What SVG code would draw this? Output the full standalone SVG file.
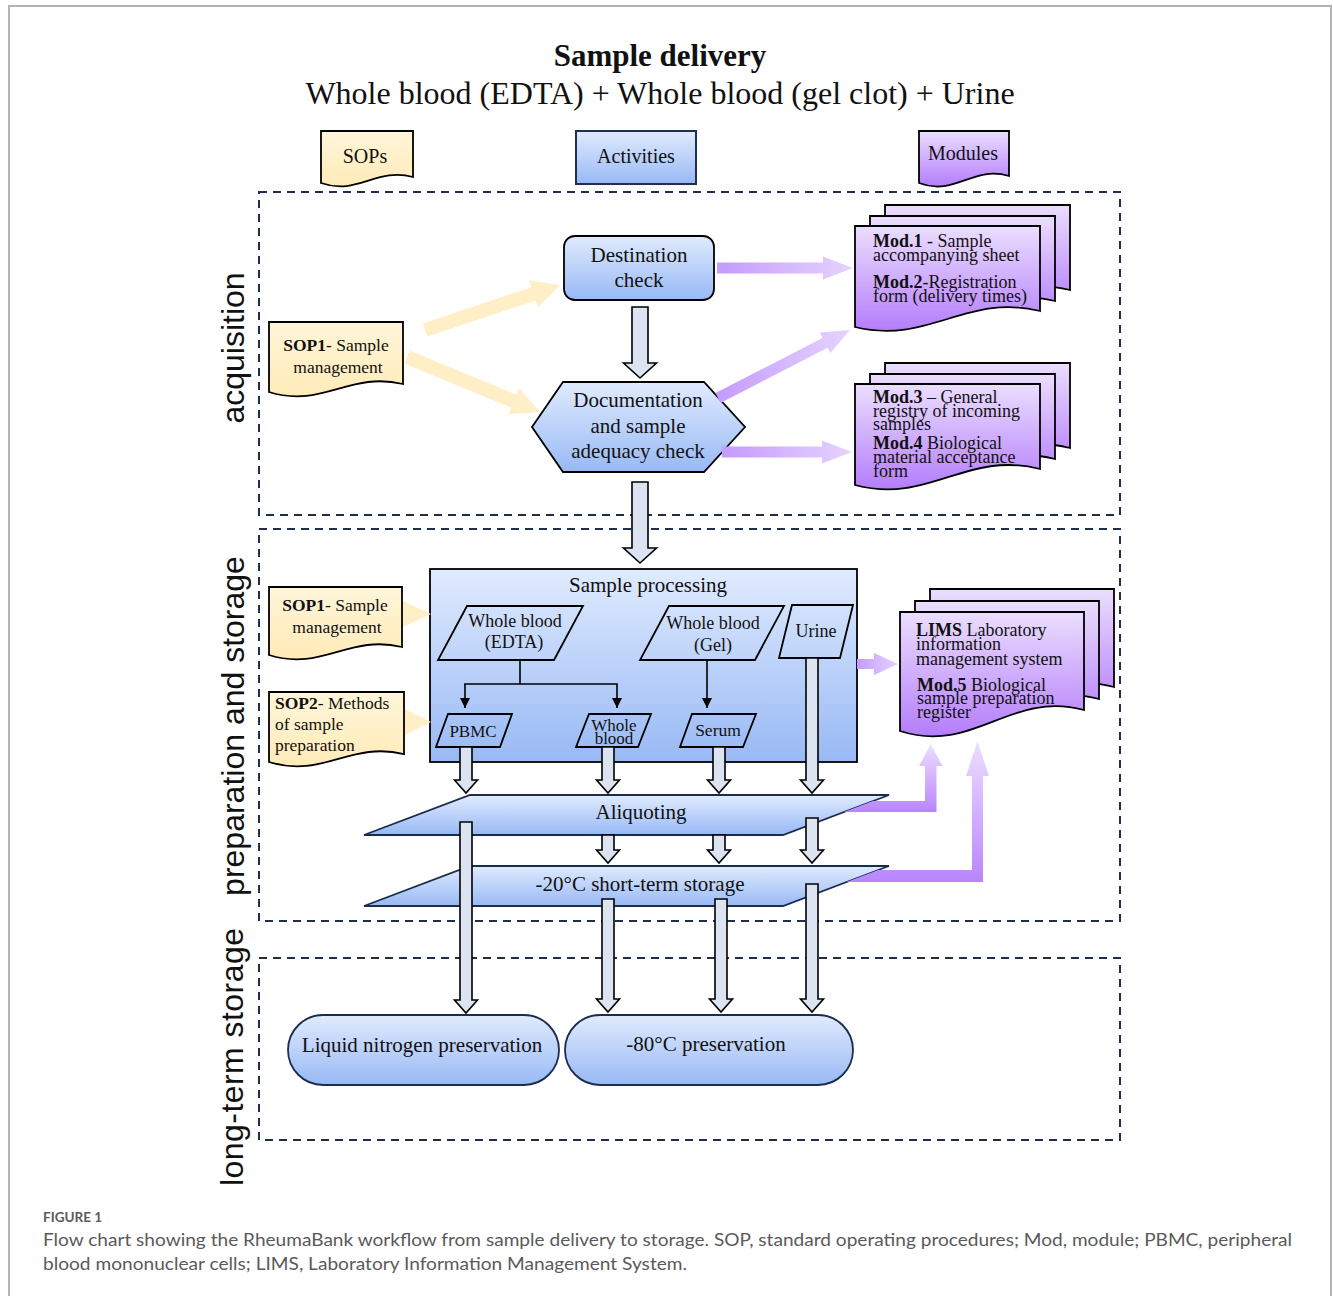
<svg xmlns="http://www.w3.org/2000/svg" width="1333" height="1296" viewBox="0 0 1333 1296">
<defs>
<linearGradient id="gBlue" x1="0" y1="0" x2="0" y2="1"><stop offset="0" stop-color="#e0ebfe"/><stop offset="1" stop-color="#98b9f5"/></linearGradient>
<linearGradient id="gYel" x1="0" y1="0" x2="0" y2="1"><stop offset="0" stop-color="#fff5d9"/><stop offset="1" stop-color="#ffebb8"/></linearGradient>
<linearGradient id="gPur" x1="0" y1="0" x2="0" y2="1"><stop offset="0" stop-color="#ebdeff"/><stop offset="1" stop-color="#b47dfb"/></linearGradient>
<linearGradient id="gArrH" x1="0" y1="0" x2="1" y2="0"><stop offset="0" stop-color="#c49bff"/><stop offset="1" stop-color="#e6d3ff"/></linearGradient>
<linearGradient id="gArrV" x1="0" y1="0" x2="0" y2="1"><stop offset="0" stop-color="#ecdfff"/><stop offset="1" stop-color="#b985ff"/></linearGradient>
<marker id="ah" viewBox="0 0 10 10" refX="10" refY="5" markerWidth="10" markerHeight="10" markerUnits="userSpaceOnUse" orient="auto"><path d="M0,0 L10,5 L0,10 Z" fill="#000"/></marker>
<style>
.serif{font-family:"Liberation Serif","Times New Roman",serif;fill:#111}
.side{font-family:"Liberation Sans",Arial,sans-serif;font-size:32px;fill:#111}
.sec{fill:none;stroke:#1f2f4f;stroke-width:2;stroke-dasharray:8 6}
.doc{stroke:#000;stroke-width:1.8}
.yel{fill:url(#gYel)}
.pur{fill:url(#gPur)}
.blue{fill:url(#gBlue)}
.blk{stroke:#000;stroke-width:1.8}
.navy{stroke:#1c2c4c;stroke-width:1.8}
.barr{fill:#dbe4f0;stroke:#000;stroke-width:1.6}
.yarr{fill:#ffefc6}
.thin{fill:none;stroke:#000;stroke-width:1.6}
.cap{font-family:Lato,"Open Sans",sans-serif;fill:#5a5a5a}
</style>
</defs>
<rect width="1333" height="1296" fill="#fff"/>
<rect x="9" y="6" width="1322" height="1310" fill="none" stroke="#b4b4b4" stroke-width="2"/>

<g id="title">
<text class="serif" x="660" y="66" text-anchor="middle" font-size="31" font-weight="bold">Sample delivery</text>
<text class="serif" x="660" y="104" text-anchor="middle" font-size="32">Whole blood (EDTA) + Whole blood (gel clot) + Urine</text>
</g>

<g id="sections">
<rect class="sec" x="259" y="192" width="861" height="323"/>
<rect class="sec" x="259" y="529" width="861" height="392"/>
<rect class="sec" x="259" y="958" width="861" height="182"/>
<text class="side" transform="translate(244,348) rotate(-90)" text-anchor="middle">acquisition</text>
<text class="side" transform="translate(244,726) rotate(-90)" text-anchor="middle">preparation and storage</text>
<text class="side" transform="translate(243,1057) rotate(-90)" text-anchor="middle" textLength="258">long-term storage</text>
</g>

<g id="hdr-sops">
<path class="doc yel" d="M321,131 H413 V177 C376.2,167 357.8,196 321,183 Z"/>
<text class="serif" x="365" y="163" text-anchor="middle" font-size="20">SOPs</text>
</g>
<g id="hdr-activities">
<rect class="blue" x="576" y="131" width="120" height="53" stroke="#1f2f4f" stroke-width="2"/>
<text class="serif" x="636" y="163" text-anchor="middle" font-size="20">Activities</text>
</g>
<g id="hdr-modules">
<path class="doc pur" d="M919,131 H1009 V176 C973,165 955,197 919,183 Z"/>
<text class="serif" x="963" y="160" text-anchor="middle" font-size="20">Modules</text>
</g>

<g id="sop1-acq">
<path class="doc yel" d="M269,322 H403 V384 C349.4,371 322.6,408.7 269,392 Z"/>
<text class="serif" x="336" y="351" text-anchor="middle" font-size="17.5"><tspan font-weight="bold">SOP1</tspan>- Sample</text>
<text class="serif" x="338" y="373" text-anchor="middle" font-size="17.5">management</text>
</g>

<g id="destination">
<rect class="blue blk" x="564" y="236" width="150" height="64" rx="11"/>
<text class="serif" x="639" y="262" text-anchor="middle" font-size="21">Destination</text>
<text class="serif" x="639" y="287" text-anchor="middle" font-size="21">check</text>
</g>

<g id="documentation">
<polygon class="blue blk" points="532,427 563,382 704,382 745,427 704,472 563,472"/>
<text class="serif" x="638" y="407" text-anchor="middle" font-size="21">Documentation</text>
<text class="serif" x="638" y="433" text-anchor="middle" font-size="21">and sample</text>
<text class="serif" x="638" y="458" text-anchor="middle" font-size="21">adequacy check</text>
</g>

<g id="mod12">
<path class="doc pur" d="M885,205 H1070 V290 C996,272 959,324 885,306 Z"/>
<path class="doc pur" d="M870,216 H1055 V301 C981,283 944,335 870,317 Z"/>
<path class="doc pur" d="M855,226 H1040 V311 C966,293 929,345 855,327 Z"/>
<text class="serif" x="873" y="247" font-size="18"><tspan font-weight="bold">Mod.1</tspan> - Sample</text>
<text class="serif" x="873" y="261" font-size="18">accompanying sheet</text>
<text class="serif" x="873" y="288" font-size="18"><tspan font-weight="bold">Mod.2</tspan>-Registration</text>
<text class="serif" x="873" y="302" font-size="18">form (delivery times)</text>
</g>

<g id="mod34">
<path class="doc pur" d="M885,363 H1070 V448 C996,429 959,484 885,464 Z"/>
<path class="doc pur" d="M870,374 H1055 V459 C981,440 944,495 870,475 Z"/>
<path class="doc pur" d="M855,384 H1040 V469 C966,450 929,505 855,485 Z"/>
<text class="serif" x="873" y="403" font-size="18"><tspan font-weight="bold">Mod.3</tspan> – General</text>
<text class="serif" x="873" y="417" font-size="18">registry of incoming</text>
<text class="serif" x="873" y="430" font-size="18">samples</text>
<text class="serif" x="873" y="449" font-size="18"><tspan font-weight="bold">Mod.4</tspan> Biological</text>
<text class="serif" x="873" y="463" font-size="18">material acceptance</text>
<text class="serif" x="873" y="477" font-size="18">form</text>
</g>

<g id="sop1-prep">
<path class="doc yel" d="M269,587 H402 V647 C348.8,634 322.2,671.7 269,655 Z"/>
<text class="serif" x="335" y="611" text-anchor="middle" font-size="17.5"><tspan font-weight="bold">SOP1</tspan>- Sample</text>
<text class="serif" x="337" y="633" text-anchor="middle" font-size="17.5">management</text>
</g>

<g id="sop2">
<path class="doc yel" d="M269,692 H404 V754 C350,741 323,778.7 269,762 Z"/>
<text class="serif" x="275" y="709" font-size="17.5"><tspan font-weight="bold">SOP2</tspan>- Methods</text>
<text class="serif" x="275" y="730" font-size="17.5">of sample</text>
<text class="serif" x="275" y="751" font-size="17.5">preparation</text>
</g>

<g id="sample-processing">
<rect class="blue blk" x="430" y="569" width="427" height="193"/>
<text class="serif" x="648" y="592" text-anchor="middle" font-size="21">Sample processing</text>
</g>
<g id="wb-edta">
<polygon class="blk" fill="none" points="467,606 583,606 554,660 438,660"/>
<text class="serif" x="515" y="627" text-anchor="middle" font-size="18">Whole blood</text>
<text class="serif" x="514" y="648" text-anchor="middle" font-size="18">(EDTA)</text>
</g>
<g id="wb-gel">
<polygon class="blk" fill="none" points="669,606 784,606 755,660 640,660"/>
<text class="serif" x="713" y="629" text-anchor="middle" font-size="18">Whole blood</text>
<text class="serif" x="713" y="651" text-anchor="middle" font-size="18">(Gel)</text>
</g>
<g id="urine">
<polygon class="blk" fill="none" points="792,605 853,605 840,658 779,658"/>
<text class="serif" x="816" y="637" text-anchor="middle" font-size="18">Urine</text>
</g>
<g id="pbmc">
<polygon class="blk" fill="none" points="448,714 512,714 500,747 436,747"/>
<text class="serif" x="473" y="737" text-anchor="middle" font-size="17">PBMC</text>
</g>
<g id="whole-blood">
<polygon class="blk" fill="none" points="589,714 651,714 638,747 576,747"/>
<text class="serif" x="614" y="731" text-anchor="middle" font-size="17">Whole</text>
<text class="serif" x="614" y="744" text-anchor="middle" font-size="17">blood</text>
</g>
<g id="serum">
<polygon class="blk" fill="none" points="692,714 756,714 743,747 680,747"/>
<text class="serif" x="718" y="736" text-anchor="middle" font-size="17.5">Serum</text>
</g>

<g id="lims">
<path class="doc pur" d="M930,589 H1114 V687 C1040,667 1004,732 930,708 Z"/>
<path class="doc pur" d="M915,601 H1099 V699 C1025,679 989,744 915,720 Z"/>
<path class="doc pur" d="M900,612 H1084 V710 C1010,690 974,755 900,731 Z"/>
<text class="serif" x="916" y="636" font-size="18"><tspan font-weight="bold">LIMS</tspan> Laboratory</text>
<text class="serif" x="916" y="650" font-size="18">information</text>
<text class="serif" x="916" y="665" font-size="18">management system</text>
<text class="serif" x="917" y="691" font-size="18"><tspan font-weight="bold">Mod.5</tspan> Biological</text>
<text class="serif" x="917" y="704" font-size="18">sample preparation</text>
<text class="serif" x="917" y="718" font-size="18">register</text>
</g>

<g id="aliquoting">
<polygon class="blue navy" points="470,795 889,795 783,835 364,835"/>
<text class="serif" x="641" y="819" text-anchor="middle" font-size="21">Aliquoting</text>
</g>
<g id="short-term">
<polygon class="blue navy" points="470,866 889,866 783,906 364,906"/>
<text class="serif" x="640" y="891" text-anchor="middle" font-size="21">-20°C short-term storage</text>
</g>

<g id="liquid-nitrogen">
<rect class="blue navy" x="288" y="1015" width="271" height="70" rx="35"/>
<text class="serif" x="422" y="1052" text-anchor="middle" font-size="21">Liquid nitrogen preservation</text>
</g>
<g id="minus80">
<rect class="blue navy" x="565" y="1015" width="288" height="70" rx="35"/>
<text class="serif" x="706" y="1051" text-anchor="middle" font-size="21">-80°C preservation</text>
</g>

<g id="connectors">
<polygon class="yarr" points="427.2,336.6 535.6,300.5 537.8,307.2 560,285 529,280.6 531.2,287.3 422.8,323.4"/>
<polygon class="yarr" points="404.3,363.5 511.4,407.8 508.7,414.2 540,412 519.5,388.4 516.8,394.8 409.7,350.5"/>
<polygon class="yarr" points="403,601 431,614 403,627"/>
<polygon class="yarr" points="405,709 431,722 405,735"/>

<polygon fill="url(#gArrH)" points="717,262.5 823,262.5 823,256.5 853,268 823,279.5 823,273.5 717,273.5"/>
<polygon fill="url(#gArrH)" points="720.5,402.9 827.6,347.7 830.4,353 850,330 819.8,332.6 822.6,337.9 715.5,393.1"/>
<polygon fill="url(#gArrH)" points="722,446.5 822,446.5 822,440.5 852,452 822,463.5 822,457.5 722,457.5"/>
<polygon fill="url(#gArrH)" points="857,659 874,659 874,653 898,664 874,675 874,669 857,669"/>
<polygon fill="url(#gArrV)" points="873,801 925,801 925,766 919,766 930.7,744 942.5,766 936.5,766 936.5,812 844,812"/>
<polygon fill="url(#gArrV)" points="878.4,870 972,870 972,776 966,776 977.5,741 989,776 983,776 983,882 846.6,882"/>

<path class="thin" d="M520,660 V684 M464.2,684 H617.8"/>
<path class="thin" d="M465,684 V708" marker-end="url(#ah)"/>
<path class="thin" d="M617,684 V708" marker-end="url(#ah)"/>
<path class="thin" d="M707,660 V708" marker-end="url(#ah)"/>

<polygon class="barr" points="632,307 648,307 648,363 656.5,363 640,378 623.5,363 632,363"/>
<polygon class="barr" points="632,482 648,482 648,548 656.5,548 640,563 623.5,548 632,548"/>
<polygon class="barr" points="460,747 472,747 472,780 477.5,780 466,793 454.5,780 460,780"/>
<polygon class="barr" points="602,747 614,747 614,780 619.5,780 608,793 596.5,780 602,780"/>
<polygon class="barr" points="713,747 725,747 725,780 730.5,780 719,793 707.5,780 713,780"/>
<polygon class="barr" points="806,658 818,658 818,780 823.5,780 812,793 800.5,780 806,780"/>
<polygon class="barr" points="602,835 614,835 614,850 619.5,850 608,863 596.5,850 602,850"/>
<polygon class="barr" points="713,835 725,835 725,850 730.5,850 719,863 707.5,850 713,850"/>
<polygon class="barr" points="806,818 818,818 818,850 823.5,850 812,863 800.5,850 806,850"/>
<polygon class="barr" points="460,822 472,822 472,1000 477.5,1000 466,1013 454.5,1000 460,1000"/>
<polygon class="barr" points="602,899 614,899 614,999 619.5,999 608,1012 596.5,999 602,999"/>
<polygon class="barr" points="715,899 727,899 727,999 732.5,999 721,1012 709.5,999 715,999"/>
<polygon class="barr" points="806,884 818,884 818,999 823.5,999 812,1012 800.5,999 806,999"/>
</g>

<g id="caption">
<text class="cap" x="43" y="1222" font-size="13.5" font-weight="bold" fill="#666">FIGURE 1</text>
<text class="cap" x="43" y="1246" font-size="17" textLength="1249" lengthAdjust="spacingAndGlyphs">Flow chart showing the RheumaBank workflow from sample delivery to storage. SOP, standard operating procedures; Mod, module; PBMC, peripheral</text>
<text class="cap" x="43" y="1270" font-size="17" textLength="644" lengthAdjust="spacingAndGlyphs">blood mononuclear cells; LIMS, Laboratory Information Management System.</text>
</g>
</svg>
